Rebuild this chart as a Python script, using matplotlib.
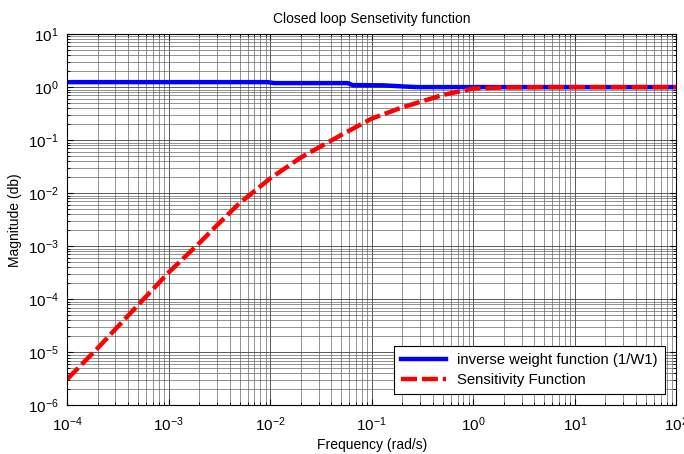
import numpy as np
import matplotlib
matplotlib.use('Agg')
import matplotlib.pyplot as plt

plt.rcParams['font.family'] = ['Liberation Sans', 'DejaVu Sans']
plt.rcParams['mathtext.fontset'] = 'custom'
plt.rcParams['mathtext.rm'] = 'Liberation Sans'

# inverse weight function 1/W1
freq_w = [1e-4, 9.5e-3, 1.1e-2, 5.8e-2, 6.5e-2, 0.13, 0.2, 0.28, 1.0, 10.0, 100.0]
inv_w1 = [1.24, 1.24, 1.19, 1.19, 1.09, 1.08, 1.03, 1.0, 1.0, 1.0, 1.0]

# closed loop sensitivity function
freq_s = [1e-4, 2e-4, 5e-4, 1e-3, 2e-3, 3e-3, 5e-3, 1e-2, 2e-2, 5e-2,
          1e-1, 2e-1, 5e-1, 7e-1, 1.0, 2.0, 5.0, 10.0, 100.0]
sens = [3.1e-6, 1.2e-5, 7.8e-5, 3.2e-4, 1.14e-3, 2.5e-3, 6.5e-3, 1.9e-2, 4.7e-2, 0.125,
        0.255, 0.415, 0.71, 0.815, 0.94, 0.985, 1.0, 1.0, 1.0]

fig = plt.figure(figsize=(6.84, 4.54), dpi=100)
ax = fig.add_axes([0.098, 0.107, 0.891, 0.818])

ax.loglog(freq_w, inv_w1, color='#0000ff', lw=3.2, label='inverse weight function (1/W1)')
ax.loglog(freq_s, sens, color='#ff0000', lw=3.2, dashes=(3.6, 1.1),
          label='Sensitivity Function')

ax.set_xlim(1e-4, 1e2)
ax.set_ylim(1e-6, 1e1)
ax.set_xticks([1e-4, 1e-3, 1e-2, 1e-1, 1e0, 1e1, 1e2])
ax.set_yticks([1e-6, 1e-5, 1e-4, 1e-3, 1e-2, 1e-1, 1e0, 1e1])

ax.grid(True, which='major', color='0.25', lw=0.6)
ax.grid(True, which='minor', color='0.4', lw=0.5)
ax.tick_params(which='both', direction='in', top=True, right=True, labelsize=11)
ax.tick_params(which='major', length=4)
ax.tick_params(which='minor', length=2)
ax.tick_params(axis='x', which='major', pad=7)
ax.tick_params(axis='y', which='major', pad=6)
for s in ax.spines.values():
    s.set_linewidth(0.8)

ax.set_title('Closed loop Sensetivity function', fontsize=10, pad=8)
ax.set_xlabel('Frequency (rad/s)', fontsize=10, labelpad=3)
ax.set_ylabel('Magnitude (db)', fontsize=10)

leg = ax.legend(loc='lower right', fontsize=10.7, fancybox=False, framealpha=1,
                edgecolor='black', borderaxespad=0.8, handlelength=3.0,
                borderpad=0.45, labelspacing=0.4)
leg.get_frame().set_linewidth(0.8)

fig.savefig('out.png', dpi=100)
